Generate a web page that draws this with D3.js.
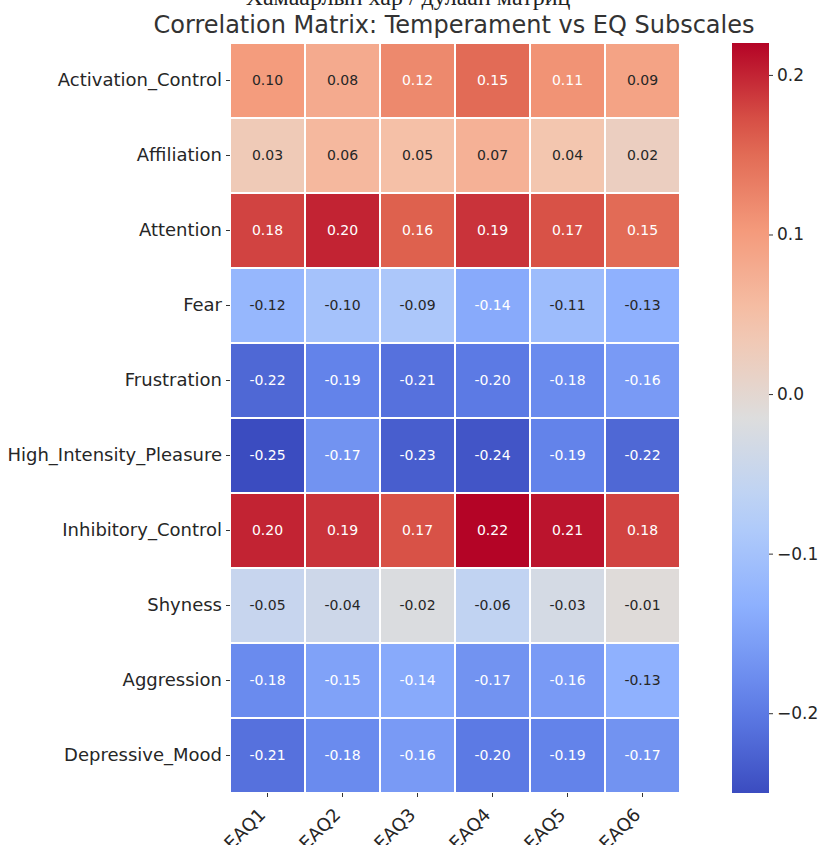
<!DOCTYPE html>
<html>
<head>
<meta charset="utf-8">
<script src="https://cdn.jsdelivr.net/npm/d3@7"></script>
<style>
  body { margin: 0; background: #fff; }
  svg { display: block; font-family: "DejaVu Sans", sans-serif; }
</style>
</head>
<body>
<svg id="chart" width="819" height="845"></svg>
<script>
const rows = [
  "Activation_Control", "Affiliation", "Attention", "Fear", "Frustration",
  "High_Intensity_Pleasure", "Inhibitory_Control", "Shyness", "Aggression", "Depressive_Mood"
];
const cols = ["EAQ1", "EAQ2", "EAQ3", "EAQ4", "EAQ5", "EAQ6"];
const values = [
  [0.10, 0.08, 0.12, 0.15, 0.11, 0.09],
  [0.03, 0.06, 0.05, 0.07, 0.04, 0.02],
  [0.18, 0.20, 0.16, 0.19, 0.17, 0.15],
  [-0.12, -0.10, -0.09, -0.14, -0.11, -0.13],
  [-0.22, -0.19, -0.21, -0.20, -0.18, -0.16],
  [-0.25, -0.17, -0.23, -0.24, -0.19, -0.22],
  [0.20, 0.19, 0.17, 0.22, 0.21, 0.18],
  [-0.05, -0.04, -0.02, -0.06, -0.03, -0.01],
  [-0.18, -0.15, -0.14, -0.17, -0.16, -0.13],
  [-0.21, -0.18, -0.16, -0.20, -0.19, -0.17]
];
const cbarTicks = [0.2, 0.1, 0.0, -0.1, -0.2];
const title = "Correlation Matrix: Temperament vs EQ Subscales";
const cutCaption = "Хамаарлын хар / дулаан матриц";

// approx matplotlib coolwarm
const coolwarmStops = ["#3b4cc0", "#6282ea", "#8db0fe", "#b8d0f9", "#dddddd", "#f5c4ac", "#f49a7b", "#de604d", "#b40426"];
const coolwarm = d3.piecewise(d3.interpolateRgb, coolwarmStops);

const flat = values.flat();
const vmin = d3.min(flat), vmax = d3.max(flat);
const color = d3.scaleSequential(coolwarm).domain([vmin, vmax]);

const hm = { left: 230, top: 43, width: 450, height: 750 };
const svg = d3.select("#chart");

const x = d3.scaleBand().domain(cols).range([hm.left, hm.left + hm.width]);
const y = d3.scaleBand().domain(rows).range([hm.top, hm.top + hm.height]);

// caption cut off by the top edge
svg.append("text")
  .attr("x", 408).attr("y", 5)
  .attr("text-anchor", "middle")
  .attr("font-family", "'Liberation Serif', 'DejaVu Serif', serif")
  .attr("font-size", 24)
  .attr("fill", "#222")
  .text(cutCaption);

svg.append("text")
  .attr("x", 454).attr("y", 33)
  .attr("text-anchor", "middle")
  .attr("font-size", 24)
  .attr("fill", "#333")
  .text(title);

function lum(c) {
  const rgb = d3.rgb(c);
  const f = v => { v /= 255; return v <= 0.03928 ? v / 12.92 : Math.pow((v + 0.055) / 1.055, 2.4); };
  return 0.2126 * f(rgb.r) + 0.7152 * f(rgb.g) + 0.0722 * f(rgb.b);
}

const cells = [];
values.forEach((r, i) => r.forEach((v, j) => cells.push({ row: rows[i], col: cols[j], v })));

const g = svg.append("g");
g.selectAll("rect").data(cells).join("rect")
  .attr("x", d => x(d.col)).attr("y", d => y(d.row))
  .attr("width", x.bandwidth()).attr("height", y.bandwidth())
  .attr("fill", d => color(d.v))
  .attr("stroke", "#fff").attr("stroke-width", 2);

g.selectAll("text").data(cells).join("text")
  .attr("x", d => x(d.col) + x.bandwidth() / 2)
  .attr("y", d => y(d.row) + y.bandwidth() / 2)
  .attr("dy", "0.35em")
  .attr("text-anchor", "middle")
  .attr("font-size", 14)
  .attr("fill", d => lum(color(d.v)) > 0.425 ? "#262626" : "#ffffff")
  .text(d => d.v.toFixed(2));

// axes
const yAxis = svg.append("g")
  .attr("transform", `translate(${hm.left},0)`)
  .call(d3.axisLeft(y).tickSize(4).tickPadding(4));
yAxis.select(".domain").remove();
yAxis.selectAll("text").attr("font-size", 18).attr("fill", "#262626").style("font-family", "DejaVu Sans");
yAxis.selectAll("line").attr("stroke", "#333");

const xAxis = svg.append("g")
  .attr("transform", `translate(0,${hm.top + hm.height})`)
  .call(d3.axisBottom(x).tickSize(4).tickPadding(4));
xAxis.select(".domain").remove();
xAxis.selectAll("line").attr("stroke", "#333");
xAxis.selectAll("text")
  .attr("font-size", 18).attr("fill", "#262626").style("font-family", "DejaVu Sans")
  .attr("text-anchor", "end")
  .attr("y", 0).attr("dy", 0)
  .attr("transform", "translate(-1,23) rotate(-45)");

// colorbar
const cb = { left: 732, width: 37, top: hm.top, height: hm.height };
const cy = d3.scaleLinear().domain([vmin, vmax]).range([cb.top + cb.height, cb.top]);
const defs = svg.append("defs");
const grad = defs.append("linearGradient").attr("id", "cbar")
  .attr("x1", 0).attr("y1", 1).attr("x2", 0).attr("y2", 0);
d3.range(0, 1.0001, 0.05).forEach(t => {
  grad.append("stop").attr("offset", t).attr("stop-color", coolwarm(t));
});
svg.append("rect")
  .attr("x", cb.left).attr("y", cb.top)
  .attr("width", cb.width).attr("height", cb.height)
  .attr("fill", "url(#cbar)");

const cAxis = svg.append("g")
  .attr("transform", `translate(${cb.left + cb.width},0)`)
  .call(d3.axisRight(cy).tickValues(cbarTicks).tickSize(4).tickPadding(4)
    .tickFormat(d => d3.format(".1f")(d).replace("-", "−")));
cAxis.select(".domain").remove();
cAxis.selectAll("line").attr("stroke", "#333");
cAxis.selectAll("text").attr("font-size", 17).attr("fill", "#262626").style("font-family", "DejaVu Sans");
</script>
</body>
</html>
